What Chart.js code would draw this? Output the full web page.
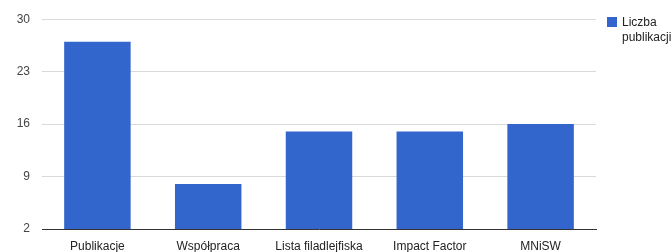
<!DOCTYPE html>
<html>
<head>
<meta charset="utf-8">
<script src="https://cdn.jsdelivr.net/npm/chart.js@4/dist/chart.umd.min.js"></script>
<style>
  html, body { margin: 0; padding: 0; background: #fff; }
  #wrap { position: relative; width: 672px; height: 252px; }
  #legend {
    position: absolute; left: 607px; top: 15px;
    font-family: Arial, "Liberation Sans", sans-serif; font-size: 12px; color: #222;
    line-height: 15px;
  }
  #legend .box { position: absolute; left: 0; top: 2px; width: 10px; height: 10px; background: #3366cc; }
  #legend .txt { margin-left: 15px; }
</style>
</head>
<body>
<div id="wrap">
  <canvas id="chart" width="672" height="252"></canvas>
  <div id="legend"><span class="box"></span><div class="txt" id="legendText"></div></div>
</div>
<script>
// data
var categories = ['Publikacje', 'Współpraca', 'Lista filadlejfiska', 'Impact Factor', 'MNiSW'];
var values = [27, 8, 15, 15, 16];
var seriesName = 'Liczba publikacji';
var yTicks = [2, 9, 16, 23, 30];

document.getElementById('legendText').innerHTML = 'Liczba<br>publikacji';

var ctx = document.getElementById('chart').getContext('2d');
var chart = new Chart(ctx, {
    type: 'bar',
    data: {
        labels: categories,
        datasets: [{
            label: seriesName,
            data: values,
            backgroundColor: '#3366cc',
            borderWidth: 0,
            categoryPercentage: 0.6,
            barPercentage: 1.0
        }]
    },
    options: {
        responsive: false,
        animation: false,
        layout: { padding: { top: 16, right: 76, bottom: 0, left: 0 } },
        plugins: {
            legend: { display: false },
            tooltip: { enabled: false }
        },
        scales: {
            x: {
                afterFit: function (axis) { axis.height = 23; },
                grid: { display: false, drawTicks: false },
                border: { display: true, color: '#333', width: 1 },
                ticks: {
                    color: '#222',
                    padding: 10,
                    font: { family: 'Arial, "Liberation Sans", sans-serif', size: 12 },
                    maxRotation: 0
                }
            },
            y: {
                min: yTicks[0],
                max: yTicks[yTicks.length - 1],
                afterBuildTicks: function (axis) {
                    axis.ticks = yTicks.map(function (v) { return { value: v }; });
                },
                afterFit: function (axis) { axis.width = 42; },
                grid: { color: '#d9d9d9', drawTicks: false },
                border: { display: false },
                ticks: {
                    color: '#444',
                    padding: 12,
                    font: { family: 'Arial, "Liberation Sans", sans-serif', size: 12 }
                }
            }
        }
    }
});
</script>
</body>
</html>
